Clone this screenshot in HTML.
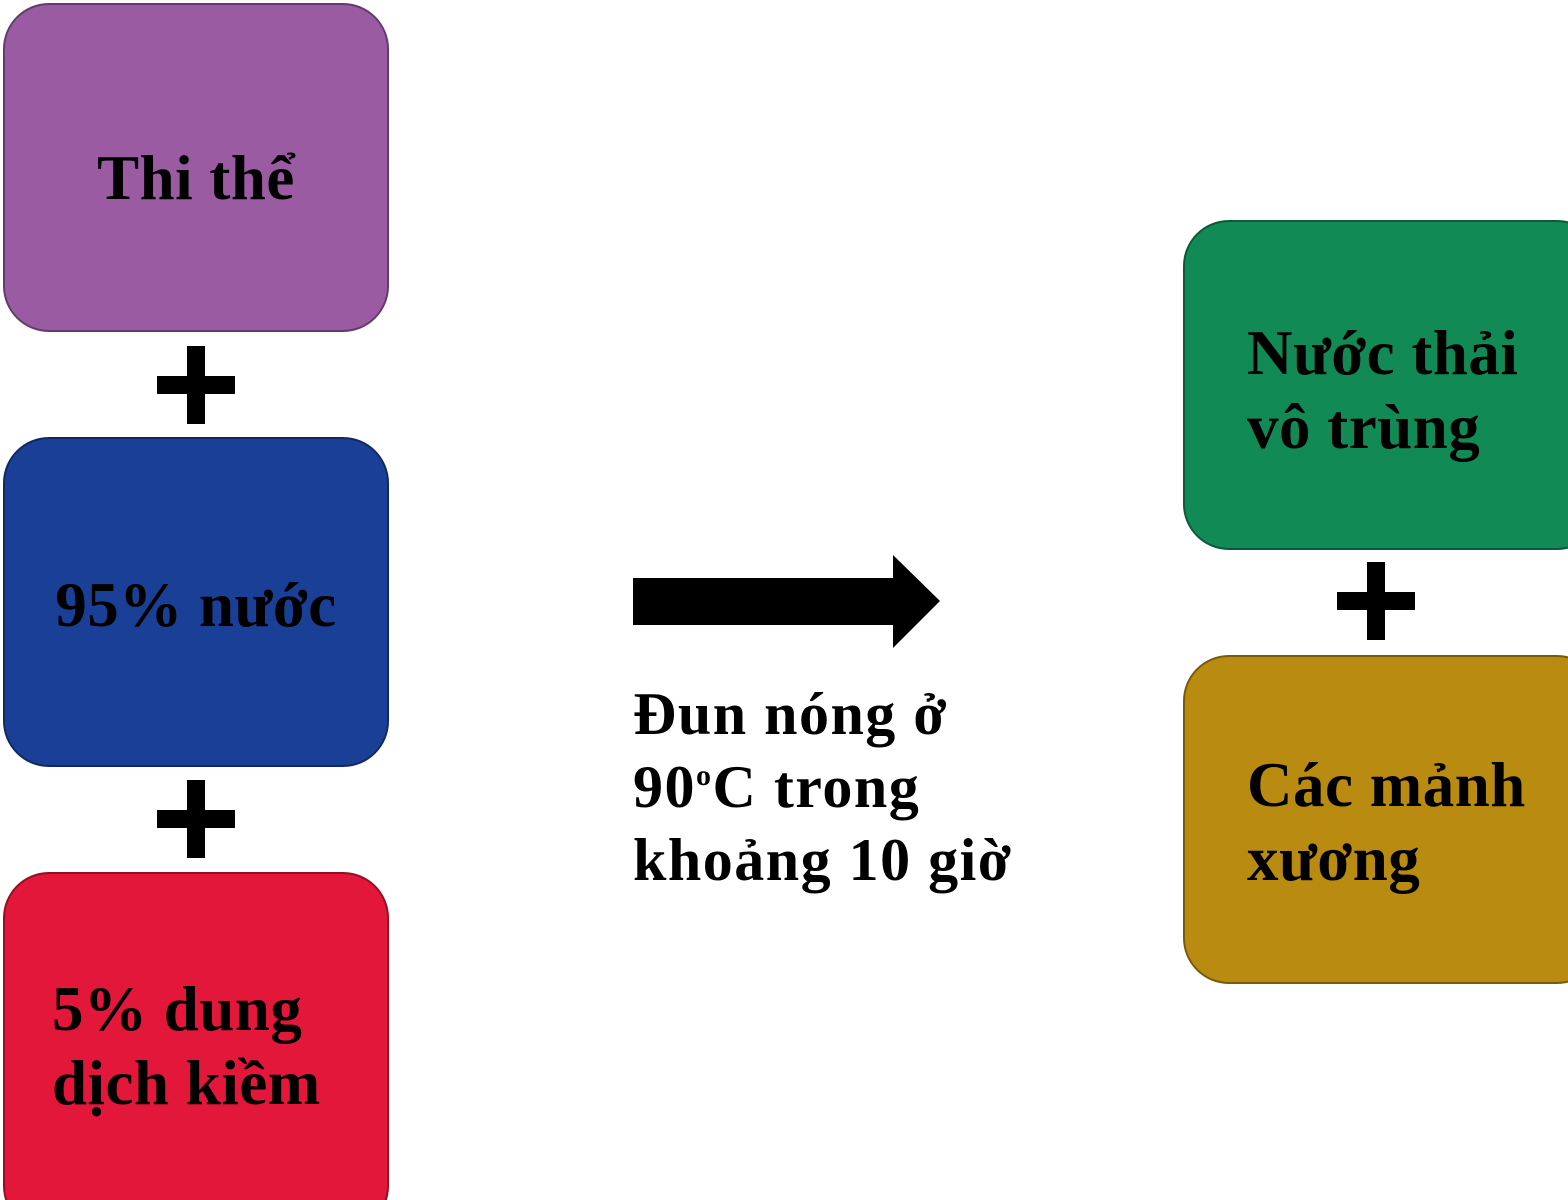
<!DOCTYPE html>
<html><head><meta charset="utf-8"><style>
html{overflow:hidden}
body{margin:0;width:1568px;height:1200px;background:#fff;position:relative;overflow:hidden;font-family:"Liberation Serif",serif;font-weight:bold;color:#000}
.b{position:absolute;border-radius:46px;box-sizing:border-box;border:2px solid rgba(0,0,0,0.35)}
.t{position:absolute;font-size:63px;line-height:74px;white-space:nowrap;letter-spacing:0.5px}
.p{position:absolute;width:78px;height:78px}
.p:before{content:"";position:absolute;left:0;top:30px;width:78px;height:18px;background:#000}
.p:after{content:"";position:absolute;left:30px;top:0;width:18px;height:78px;background:#000}
</style></head><body>
<div class="b" style="left:3px;top:3px;width:386px;height:329px;background:#9a5ba3"></div>
<div class="b" style="left:3px;top:437px;width:386px;height:330px;background:#1a3f96"></div>
<div class="b" style="left:3px;top:872px;width:386px;height:360px;background:#e3173a"></div>
<div class="b" style="left:1183px;top:220px;width:420px;height:330px;background:#128a55"></div>
<div class="b" style="left:1183px;top:655px;width:420px;height:329px;background:#b98b10"></div>
<div class="p" style="left:157px;top:346px"></div>
<div class="p" style="left:157px;top:780px"></div>
<div class="p" style="left:1337px;top:562px"></div>
<div class="t" style="left:3px;width:386px;text-align:center;top:141px">Thi thể</div>
<div class="t" style="left:3px;width:386px;text-align:center;top:568px">95% nước</div>
<div class="t" style="left:52px;top:972px">5% dung<br>dịch kiềm</div>
<div class="t" style="left:1247px;top:316px">Nước thải<br>vô trùng</div>
<div class="t" style="left:1247px;top:748px">Các mảnh<br>xương</div>
<div class="t" style="left:633px;top:678px;font-size:60px;line-height:73px;letter-spacing:1.5px">Đun nóng ở<br>90<sup style="font-size:30px;vertical-align:22px;line-height:0">o</sup>C trong<br>khoảng 10 giờ</div>
<svg style="position:absolute;left:0;top:0" width="1568" height="1200"><polygon points="633,578 893,578 893,555 940,601 893,648 893,625 633,625" fill="#000"/></svg>
</body></html>
